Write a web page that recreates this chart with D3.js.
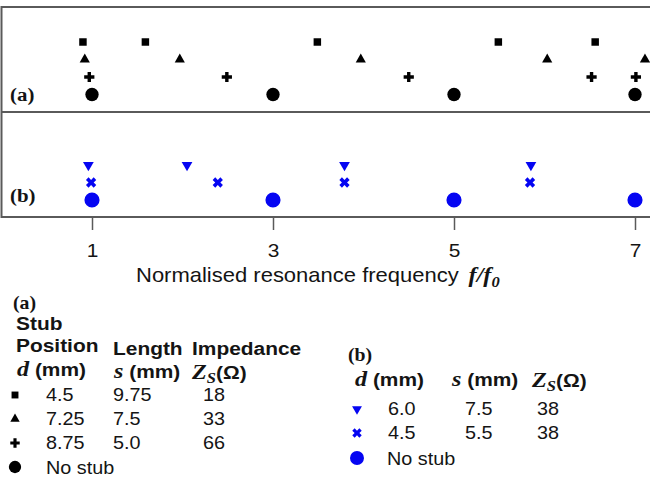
<!DOCTYPE html>
<html>
<head>
<meta charset="utf-8">
<script src="https://cdn.jsdelivr.net/npm/d3@7"></script>
<style>
  body { margin: 0; background: #fff; }
  svg { display: block; }
  .frame { fill: none; stroke: #5a5a5a; stroke-width: 2; }
  .tick line { stroke: #5a5a5a; stroke-width: 1.5; }
  text { fill: #141414; }
  .sans { font-family: "Liberation Sans", Arial, sans-serif; }
  .serif { font-family: "Liberation Serif", "Times New Roman", serif; }
</style>
</head>
<body>
<svg width="650" height="485"></svg>
<script>
// f/f0 where each resonance sits, one list per row
const ticks = [1, 3, 5, 7];
const squareF = [0.9, 1.59, 3.49, 5.49, 6.56];
const triangleF = [0.92, 1.97, 3.97, 6.03, 7.11];
const plusF = [0.97, 2.49, 4.5, 6.52, 7.01];
const noStubA = [1, 3, 5, 7];
const triDownF = [0.96, 2.05, 3.79, 5.85];
const crossF = [0.99, 2.39, 3.79, 5.84];
const noStubB = [1, 3, 5, 7];

const rowsA = ["square", "triangle", "plus", "circle"];
const rowsB = ["triDown", "cross", "circleB"];

// legend tables: marker, d, s, Zs
const legendA = [
  ["square", "4.5", "9.75", "18"],
  ["triangle", "7.25", "7.5", "33"],
  ["plus", "8.75", "5.0", "66"],
];
const legendB = [
  ["triDown", "6.0", "7.5", "38"],
  ["cross", "4.5", "5.5", "38"],
];

const svg = d3.select("svg");
const SX = 1.1;
const blue = "#0505f2";

const x = d3.scaleLinear().domain([1, 7]).range([92, 635]);
const yA = d3.scalePoint().domain(rowsA).range([42, 94.5]);
const yB = d3.scalePoint().domain(rowsB).range([165, 200]);

const symbols = {
  square: { type: d3.symbolSquare, size: 56, fill: "#000", rot: 0 },
  triangle: { type: d3.symbolTriangle, size: 45, fill: "#000", rot: 0 },
  plus: { type: d3.symbolCross, size: 58, fill: "#000", rot: 0 },
  circle: { type: d3.symbolCircle, size: 140, fill: "#000", rot: 0 },
  triDown: { type: d3.symbolTriangle, size: 50, fill: blue, rot: 180 },
  cross: { type: d3.symbolCross, size: 66, fill: blue, rot: 45 },
  circleB: { type: d3.symbolCircle, size: 180, fill: blue, rot: 0 },
};

function drawRow(data, kind, y) {
  const s = symbols[kind];
  svg
    .append("g")
    .selectAll("path")
    .data(data)
    .join("path")
    .attr("d", d3.symbol().type(s.type).size(s.size))
    .attr("fill", s.fill)
    .attr("transform", (d) => `translate(${x(d)},${y}) rotate(${s.rot})`);
}

// frame of the two panels
svg.append("rect").attr("class", "frame").attr("x", 1.5).attr("y", 7).attr("width", 680).attr("height", 210);
svg.append("line").attr("class", "frame").attr("x1", 1.5).attr("x2", 680).attr("y1", 112).attr("y2", 112);

drawRow(squareF, "square", yA("square"));
drawRow(triangleF, "triangle", yA("triangle"));
drawRow(plusF, "plus", yA("plus"));
drawRow(noStubA, "circle", yA("circle"));
drawRow(triDownF, "triDown", yB("triDown"));
drawRow(crossF, "cross", yB("cross"));
drawRow(noStubB, "circleB", yB("circleB"));

// text helper: one <text>, several tspans, slightly stretched like the original
function label(px, py, parts, anchor) {
  const t = svg
    .append("text")
    .attr("transform", `translate(${px},${py}) scale(${SX},1)`)
    .attr("text-anchor", anchor || "start");
  parts.forEach((p) => {
    t.append("tspan")
      .attr("class", p.serif ? "serif" : "sans")
      .attr("font-size", p.size || 18)
      .attr("font-weight", p.bold ? "bold" : "normal")
      .attr("font-style", p.italic ? "italic" : "normal")
      .attr("dx", p.dx || 0)
      .attr("dy", p.dy || 0)
      .text(p.t);
  });
  return t;
}

label(10, 101, [{ t: "(a)", serif: true, bold: true, size: 19 }]);
label(10, 202, [{ t: "(b)", serif: true, bold: true, size: 19 }]);

// axis
const axis = svg
  .append("g")
  .attr("transform", "translate(0,217)")
  .call(d3.axisBottom(x).tickValues(ticks).tickSize(13).tickFormat(d3.format("d")));
axis.select(".domain").remove();
axis
  .selectAll(".tick text")
  .attr("class", "sans")
  .attr("font-size", 19)
  .attr("fill", "#141414")
  .attr("y", 40)
  .attr("dy", null)
  .attr("transform", `scale(${SX},1)`);

label(136, 282, [
  { t: "Normalised resonance frequency", size: 20 },
  { t: "f/f", serif: true, bold: true, italic: true, size: 22, dx: 9 },
  { t: "0", serif: true, bold: true, italic: true, size: 15, dy: 5 },
]);

// legend (a)
const sym = (kind, px, py) =>
  svg
    .append("path")
    .attr("d", d3.symbol().type(symbols[kind].type).size(symbols[kind].size * 0.85))
    .attr("fill", symbols[kind].fill)
    .attr("transform", `translate(${px},${py}) rotate(${symbols[kind].rot})`);

label(13, 309, [{ t: "(a)", serif: true, bold: true, size: 18 }]);
label(16, 330, [{ t: "Stub", bold: true, size: 19 }]);
label(16, 352, [{ t: "Position", bold: true, size: 19 }]);
label(113, 355, [{ t: "Length", bold: true, size: 19 }]);
label(192, 355, [{ t: "Impedance", bold: true, size: 19 }]);
label(17, 376, [
  { t: "d", serif: true, bold: true, italic: true, size: 22 },
  { t: " (mm)", bold: true, size: 19 },
]);
label(114, 378, [
  { t: "s", serif: true, bold: true, italic: true, size: 22 },
  { t: " (mm)", bold: true, size: 19 },
]);
label(192, 379, [
  { t: "Z", serif: true, bold: true, italic: true, size: 22 },
  { t: "S", serif: true, bold: true, italic: true, size: 15, dy: 4 },
  { t: "(Ω)", bold: true, size: 19, dy: -4 },
]);

legendA.forEach((r, i) => {
  const by = 401 + i * 24;
  sym(r[0], 15, by - 6);
  label(46, by, [{ t: r[1] }]);
  label(113, by, [{ t: r[2] }]);
  label(203, by, [{ t: r[3] }]);
});
sym("circle", 15, 467);
label(46, 474, [{ t: "No stub" }]);

// legend (b)
label(348, 361, [{ t: "(b)", serif: true, bold: true, size: 18 }]);
label(355, 386, [
  { t: "d", serif: true, bold: true, italic: true, size: 22 },
  { t: " (mm)", bold: true, size: 19 },
]);
label(452, 386, [
  { t: "s", serif: true, bold: true, italic: true, size: 22 },
  { t: " (mm)", bold: true, size: 19 },
]);
label(532, 387, [
  { t: "Z", serif: true, bold: true, italic: true, size: 22 },
  { t: "S", serif: true, bold: true, italic: true, size: 15, dy: 4 },
  { t: "(Ω)", bold: true, size: 19, dy: -4 },
]);

legendB.forEach((r, i) => {
  const by = 415 + i * 24;
  sym(r[0], 357, by - 6);
  label(388, by, [{ t: r[1] }]);
  label(465, by, [{ t: r[2] }]);
  label(537, by, [{ t: r[3] }]);
});
sym("circleB", 357, 458);
label(387, 465, [{ t: "No stub" }]);
</script>
</body>
</html>
